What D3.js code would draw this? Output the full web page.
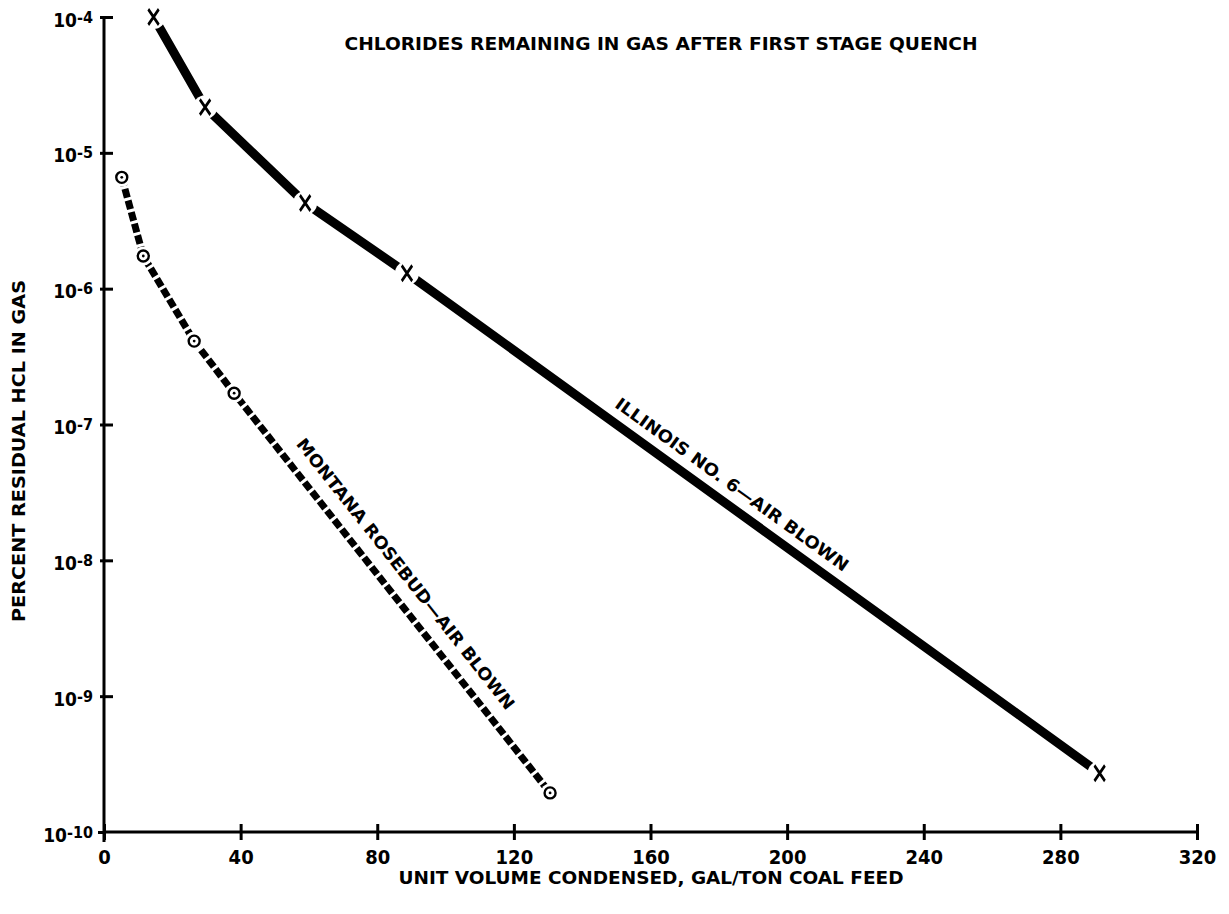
<!DOCTYPE html>
<html>
<head>
<meta charset="utf-8">
<script src="https://cdn.jsdelivr.net/npm/d3@7"></script>
<style>
	body { margin: 0; background: #fff; }
	svg { display: block; }
	text { font-family: "Liberation Sans Narrow", "DejaVu Sans Condensed", "Liberation Sans", Arial, sans-serif; font-weight: bold; fill: #000; }
</style>
</head>
<body>
<svg id="chart"></svg>
<script>
// values (x = gal/ton, y = percent residual HCl)
const illinoisX = [14.5, 29.6, 58.9, 88.7, 291.5];
const illinoisY = [1.0e-4, 2.17e-5, 4.27e-6, 1.30e-6, 2.71e-10];
const montanaX = [5.2, 11.5, 26.4, 38.1, 130.6];
const montanaY = [6.6e-6, 1.74e-6, 4.11e-7, 1.70e-7, 1.94e-10];

const xTicks = [0, 40, 80, 120, 160, 200, 240, 280, 320];
const yTicks = [1e-4, 1e-5, 1e-6, 1e-7, 1e-8, 1e-9, 1e-10];
const yTickExponents = ["-4", "-5", "-6", "-7", "-8", "-9", "-10"];

const chartTitle = "CHLORIDES REMAINING IN GAS AFTER FIRST STAGE QUENCH";
const xTitle = "UNIT VOLUME CONDENSED, GAL/TON COAL FEED";
const yTitle = "PERCENT RESIDUAL HCL IN GAS";
const illinoisLabel = "ILLINOIS NO. 6\u2014AIR BLOWN";
const montanaLabel = "MONTANA ROSEBUD\u2014AIR BLOWN";

var width = 1229,
	height = 914,
	xRange = d3.scaleLinear().domain([0, 320]).range([104, 1197]),
	yRange = d3.scaleLog().domain([1e-10, 1e-4]).range([832, 17]),
	svg = d3.select("#chart").attr("width", width).attr("height", height),
	illinois = illinoisX.map(function(x, i){ return {x: x, y: illinoisY[i]}; }),
	montana = montanaX.map(function(x, i){ return {x: x, y: montanaY[i]}; });

drawAxes();
drawTitles();
drawLines();
drawMarkers();
drawLineLabels();

function drawAxes(){
	let yAxis = d3.axisLeft(yRange).tickValues(yTicks).tickFormat("").tickSizeOuter(0),
		xAxis = d3.axisBottom(xRange).tickValues(xTicks).tickFormat("").tickSizeOuter(0);

	let yG = svg.append("g").attr("class", "yAxis")
		.attr("transform", "translate(" + xRange(0) + ",0)")
		.call(yAxis);
	yG.select(".domain").attr("stroke-width", 3).attr("d", "M0," + yRange(1e-4) + "V" + (yRange(1e-10) + 10));
	yG.selectAll(".tick line").attr("x1", -4).attr("x2", 9).attr("stroke-width", 3);
	// bottom decade only gets a stub to the left, the x axis runs right from it
	yG.selectAll(".tick").filter(function(d){ return d === 1e-10; }).select("line").attr("x1", -6).attr("x2", 0);

	let labels = yG.selectAll(".tick").append("text")
		.attr("x", -11).attr("y", 9)
		.attr("text-anchor", "end")
		.attr("font-size", 19);
	labels.append("tspan").text("10");
	labels.append("tspan").attr("dy", -4).attr("font-size", 16)
		.text(function(d, i){ return yTickExponents[i]; });

	let xG = svg.append("g").attr("class", "xAxis")
		.attr("transform", "translate(0," + yRange(1e-10) + ")")
		.call(xAxis);
	xG.select(".domain").attr("stroke-width", 3).attr("d", "M" + xRange(0) + ",0H" + xRange(320));
	xG.selectAll(".tick line").attr("y1", -8).attr("y2", 8).attr("stroke-width", 3);
	xG.selectAll(".tick").append("text")
		.attr("y", 32)
		.attr("text-anchor", "middle")
		.attr("font-size", 20)
		.text(function(d){ return d; });
}

function drawTitles(){
	svg.append("text")
		.attr("x", 661).attr("y", 50)
		.attr("text-anchor", "middle")
		.attr("font-size", 17)
		.attr("textLength", 633).attr("lengthAdjust", "spacingAndGlyphs")
		.text(chartTitle);

	svg.append("text")
		.attr("x", 651).attr("y", 884)
		.attr("text-anchor", "middle")
		.attr("font-size", 18)
		.attr("textLength", 505).attr("lengthAdjust", "spacingAndGlyphs")
		.text(xTitle);

	svg.append("text")
		.attr("transform", "translate(25,451) rotate(-90)")
		.attr("text-anchor", "middle")
		.attr("font-size", 18)
		.attr("textLength", 342).attr("lengthAdjust", "spacingAndGlyphs")
		.text(yTitle);
}

function drawLines(){
	let singleLine = d3.line()
		.x(function(d){ return xRange(d.x); })
		.y(function(d){ return yRange(d.y); });

	svg.append("path").attr("class", "line illinois")
		.attr("d", singleLine(illinois))
		.attr("fill", "none")
		.attr("stroke", "#000")
		.attr("stroke-width", 9);

	svg.append("path").attr("class", "line montana")
		.attr("d", singleLine(montana))
		.attr("fill", "none")
		.attr("stroke", "#000")
		.attr("stroke-width", 7)
		.attr("stroke-dasharray", "9,3");
}

function drawMarkers(){
	// white halos leave the small gaps in the lines around each point
	let illG = svg.append("g").attr("class", "markers illinois");
	illG.selectAll("circle").data(illinois).enter().append("circle")
		.attr("cx", function(d){ return xRange(d.x); })
		.attr("cy", function(d){ return yRange(d.y); })
		.attr("r", 12).attr("fill", "#fff");
	illG.selectAll("path").data(illinois).enter().append("path")
		.attr("transform", function(d){ return "translate(" + xRange(d.x) + "," + yRange(d.y) + ") scale(0.75,1.1)"; })
		.attr("d", d3.symbol(d3.symbolX, 130))
		.attr("fill", "none").attr("stroke", "#000").attr("stroke-width", 3.2);

	let monG = svg.append("g").attr("class", "markers montana");
	monG.selectAll("circle.halo").data(montana).enter().append("circle").attr("class", "halo")
		.attr("cx", function(d){ return xRange(d.x); })
		.attr("cy", function(d){ return yRange(d.y); })
		.attr("r", 9.5).attr("fill", "#fff");
	monG.selectAll("circle.ring").data(montana).enter().append("circle").attr("class", "ring")
		.attr("cx", function(d){ return xRange(d.x); })
		.attr("cy", function(d){ return yRange(d.y); })
		.attr("r", 5.5).attr("fill", "#fff").attr("stroke", "#000").attr("stroke-width", 2.4);
	monG.selectAll("circle.dot").data(montana).enter().append("circle").attr("class", "dot")
		.attr("cx", function(d){ return xRange(d.x); })
		.attr("cy", function(d){ return yRange(d.y); })
		.attr("r", 1.4).attr("fill", "#000");
}

function drawLineLabels(){
	placeLabel(illinois, 3, 147, 13, 283, illinoisLabel);
	placeLabel(montana, 3, 52.3, 16.5, 340, montanaLabel);
}

// puts a label parallel to the segment starting at point i, at data x = x0
function placeLabel(points, i, x0, offset, len, label){
	let a = points[i], b = points[i + 1],
		t = (x0 - a.x) / (b.x - a.x),
		y0 = Math.pow(10, Math.log10(a.y) + t * (Math.log10(b.y) - Math.log10(a.y))),
		px = xRange(x0),
		py = yRange(y0),
		angle = Math.atan2(yRange(b.y) - yRange(a.y), xRange(b.x) - xRange(a.x)) * 180 / Math.PI;
	svg.append("text")
		.attr("transform", "translate(" + px + "," + py + ") rotate(" + angle + ")")
		.attr("y", -offset)
		.attr("font-size", 17)
		.attr("textLength", len).attr("lengthAdjust", "spacingAndGlyphs")
		.text(label);
}
</script>
</body>
</html>
